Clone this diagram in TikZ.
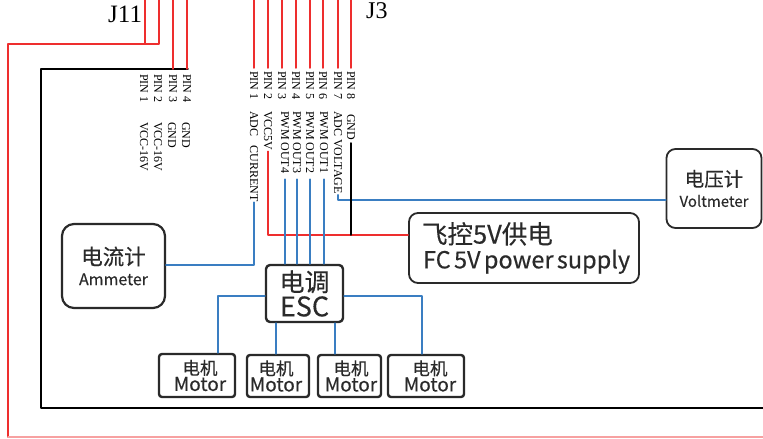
\documentclass[tikz,border=0pt]{standalone}
\usepackage{fontspec}
\setmainfont{Liberation Serif}
\newfontfamily\cjk[FakeBold = .35, WordSpace = 1.7]{Noto Sans CJK SC}

\definecolor{wirered}{HTML}{EE2E2E}
\definecolor{wireblue}{HTML}{3A7EC2}
\definecolor{boxedge}{HTML}{2A2A2A}

\tikzset{
  redline/.style = {draw = wirered, line width = 1.5pt},
  blueline/.style = {draw = wireblue, line width = 1.8pt},
  blackline/.style = {draw = black, line width = 1.5pt},
  pinlabel/.style = {rotate = -90, anchor = west, inner sep = 0, outer sep = 3pt,
    font = \fontsize{12}{12}\selectfont},
  siglabel/.style = {rotate = -90, anchor = west, inner sep = 0, outer sep = 1pt,
    font = \fontsize{12}{12}\selectfont},
  unitbox/.style = {draw = boxedge, line width = 1.8pt, align = center, inner sep = 0,
    text = boxedge, rounded corners = 9pt},
  smallbox/.style = {unitbox, line width = 2.4pt, rounded corners = 3pt}
}

\newcommand{\motortext}[1]{\hspace*{#1}{\cjk\fontsize{17.5}{17.5}\selectfont 电机}\\[0pt]\hspace*{#1}{\cjk\fontsize{19}{19}\selectfont Motor}}

\begin{document}
\begin{tikzpicture}[x = 1pt, y = -1pt, line join = round, line cap = round]
  \useasboundingbox (0, 0) rectangle (763, 439);

  \coordinate (TA) at (145, 0);
  \coordinate (TB) at (159, 0);
  \coordinate (BendA) at (145, 44);
  \coordinate (BendB) at (159, 44);
  \coordinate (Edge1) at (8, 44);
  \coordinate (Edge2) at (8, 437);
  \coordinate (Edge3) at (763, 437);
  \coordinate (Board1) at (188, 69);
  \coordinate (Board2) at (41, 69);
  \coordinate (Board3) at (41, 408);
  \coordinate (Board4) at (763, 408);

  % outer wires and board
  \draw[redline] (TA) -- (BendA);
  \draw[redline] (TB) -- (BendB) -- (Edge1) -- (Edge2);
  \draw[draw = wirered!45, line width = 1.5pt] (Edge2) -- (Edge3);
  \draw[line width = 1.5pt] (Board1) -- (Board2) -- (Board3) -- (Board4);

  \node[anchor = base west, inner sep = 0, font = \fontsize{25}{25}\selectfont] (JEleven)
  at (108, 23) {J11};
  \node[anchor = base west, inner sep = 0, font = \fontsize{24}{24}\selectfont] (JThree)
  at (366, 19) {J3};

  % J11 labels
  \node[pinlabel] (APin1) at (144, 71) {PIN 1};
  \node[pinlabel] (APin2) at (158, 71) {PIN 2};
  \node[pinlabel] (APin3) at (173, 71) {PIN 3};
  \node[pinlabel] (APin4) at (187, 71) {PIN 4};
  \node[siglabel] (ASig1) at (144, 121) {VCC-16V};
  \node[siglabel] (ASig2) at (158, 121) {VCC-16V};
  \node[siglabel] (ASig3) at (172, 121) {GND};
  \node[siglabel] (ASig4) at (186, 121) {GND};
  \draw[redline] (173, 0) -- (Board1 -| APin3.west);
  \draw[redline] (187, 0) -- (Board1 -| APin4.west);

  % J3 labels
  \node[pinlabel] (Pin1) at (254, 68) {PIN 1};
  \node[pinlabel] (Pin2) at (268, 68) {PIN 2};
  \node[pinlabel] (Pin3) at (282, 68) {PIN 3};
  \node[pinlabel] (Pin4) at (296, 68) {PIN 4};
  \node[pinlabel] (Pin5) at (310, 68) {PIN 5};
  \node[pinlabel] (Pin6) at (323, 68) {PIN 6};
  \node[pinlabel] (Pin7) at (338, 68) {PIN 7};
  \node[pinlabel] (Pin8) at (351, 68) {PIN 8};
  \draw[redline] (Pin1.west |- 0, 0) -- (Pin1.west);
  \draw[redline] (Pin2.west |- 0, 0) -- (Pin2.west);
  \draw[redline] (Pin3.west |- 0, 0) -- (Pin3.west);
  \draw[redline] (Pin4.west |- 0, 0) -- (Pin4.west);
  \draw[redline] (Pin5.west |- 0, 0) -- (Pin5.west);
  \draw[redline] (Pin6.west |- 0, 0) -- (Pin6.west);
  \draw[redline] (Pin7.west |- 0, 0) -- (Pin7.west);
  \draw[redline] (Pin8.west |- 0, 0) -- (Pin8.west);

  \node[siglabel] (Sig1) at (254, 110) {ADC\ \enspace CURRENT};
  \node[siglabel] (Sig2) at (268, 110) {VCC5V};
  \node[siglabel] (Sig3) at (285, 110) {PWM OUT4};
  \node[siglabel] (Sig4) at (297, 110) {PWM OUT3};
  \node[siglabel] (Sig5) at (310, 110) {PWM OUT2};
  \node[siglabel] (Sig6) at (324, 110) {PWM OUT1};
  \node[siglabel] (Sig7) at (338, 110) {ADC VOLTAGE};
  \node[siglabel] (Sig8) at (351, 113) {GND};

  % units
  \node[unitbox, line width = 2.2pt, rounded corners = 12pt, minimum width = 103pt,
  minimum height = 84pt] (Ammeter) at (113.5, 266)
  {{\cjk\fontsize{21.5}{21.5}\selectfont 电流计}\\[6pt]{\cjk\fontsize{16}{16}\selectfont Ammeter}};
  \node[unitbox, minimum width = 95pt, minimum height = 79pt] (Voltmeter) at (714, 188.5)
  {{\cjk\fontsize{19.5}{19.5}\selectfont 电压计}\\[6pt]{\cjk\fontsize{15}{15}\selectfont Voltmeter}};
  \node[unitbox, minimum width = 230pt, minimum height = 70pt, text width = 218pt, align = left]
  (Supply) at (524, 248)
  {\hspace*{7pt}{\cjk\fontsize{25.5}{25.5}\selectfont 飞控5V供电}\\[3pt]\hspace*{8pt}{\cjk\fontsize{23.5}{23.5}\selectfont FC 5V power supply}};
  \node[smallbox, minimum width = 77pt, minimum height = 57pt, rounded corners = 4pt] (Esc) at (304.5, 293.5)
  {{\cjk\fontsize{25}{25}\selectfont 电调}\\[2pt]{\cjk\fontsize{27}{27}\selectfont ESC}};
  \node[smallbox, minimum width = 76pt, minimum height = 43pt] (MotorA) at (197, 375.5) {\motortext{6pt}};
  \node[smallbox, minimum width = 62pt, minimum height = 42pt] (MotorB) at (278, 376) {\motortext{-4pt}};
  \node[smallbox, minimum width = 63pt, minimum height = 42pt] (MotorC) at (349.5, 376) {\motortext{3pt}};
  \node[smallbox, minimum width = 76pt, minimum height = 42pt] (MotorD) at (426, 376) {\motortext{8pt}};

  % signal wires
  \draw[blueline] (Sig1.east) |- (Ammeter.east |- 0, 265);
  \draw[redline] (Sig2.east) |- (Supply.west |- 0, 235);
  \draw[blueline, shorten <= 5pt] (Sig3.east) -- (Sig3.east |- Esc.north);
  \draw[blueline, shorten <= 5pt] (Sig4.east) -- (Sig4.east |- Esc.north);
  \draw[blueline, shorten <= 5pt] (Sig5.east) -- (Sig5.east |- Esc.north);
  \draw[blueline, shorten <= 5pt] (Sig6.east) -- (Sig6.east |- Esc.north);
  \draw[blueline] (Sig7.east) |- (Voltmeter.west |- 0, 200);
  \draw[blackline, shorten <= 2pt] (Sig8.east) -- (Sig8.east |- 0, 235);

  \draw[blueline] (Esc.west |- 0, 296) -| (MotorA.north -| 218, 0);
  \draw[blueline] (Esc.east |- 0, 296) -| (MotorD.north -| 422, 0);
  \draw[blueline] (Esc.south -| 276, 0) -- (MotorB.north -| 276, 0);
  \draw[blueline] (Esc.south -| 335, 0) -- (MotorC.north -| 335, 0);
\end{tikzpicture}
\end{document}
